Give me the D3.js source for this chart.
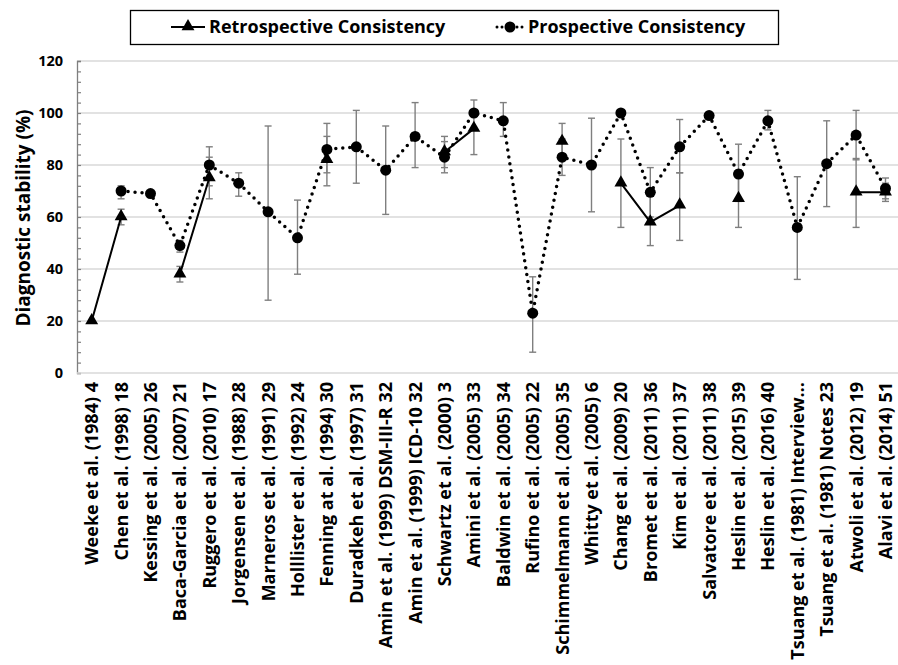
<!DOCTYPE html>
<html>
<head>
<meta charset="utf-8">
<script src="https://cdn.jsdelivr.net/npm/d3@7"></script>
<style>
  body { margin: 0; background: #fff; }
  text { font-family: "Open Sans", sans-serif; font-weight: 700; fill: #000; }
</style>
</head>
<body>
<div id="chart"></div>
<script>
var width = 898, height = 665;
var margin = {top: 61, left: 77, bottom: 292};

var studies = ["Weeke et al. (1984) 4", "Chen et al. (1998) 18", "Kessing et al. (2005) 26",
  "Baca-Garcia et al. (2007) 21", "Ruggero et al. (2010) 17", "Jorgensen et al. (1988) 28",
  "Marneros et al. (1991) 29", "Holllister et al. (1992) 24", "Fenning at al. (1994) 30",
  "Duradkeh et al. (1997) 31", "Amin et al. (1999) DSM-III-R 32", "Amin et al. (1999) ICD-10 32",
  "Schwartz et al. (2000) 3", "Amini et al. (2005) 33", "Baldwin et al. (2005) 34",
  "Rufino et al. (2005) 22", "Schimmelmann et al. (2005) 35", "Whitty et al. (2005) 6",
  "Chang et al. (2009) 20", "Bromet et al. (2011) 36", "Kim et al. (2011) 37",
  "Salvatore et al. (2011) 38", "Heslin et al. (2015) 39", "Heslin et al. (2016) 40",
  "Tsuang et al. (1981) Interview…", "Tsuang et al. (1981) Notes 23", "Atwoli et al. (2012) 19",
  "Alavi et al. (2014) 51"];

// retrospective consistency (%), null = not reported
var retro = [20, 60, null, 38, 75, null, null, null, 82, null, null, null, 85, 94, null, null, 89, null,
  73, 58, 64.5, null, 67, null, null, null, 69.5, 69.5];
var retroLow = [null, 57, null, 35, 67, null, null, null, 72, null, null, null, 77, 84, null, null, 83, null,
  56, 49, 51, null, 56, null, null, null, 56, 66];
var retroHigh = [null, 63, null, 41, 83, null, null, null, 91, null, null, null, 91, 105, null, null, 96, null,
  90, 68, 77, null, 78, null, null, null, 82.5, 73];

// prospective consistency (%)
var pro = [null, 70, 69, 49, 80, 73, 62, 52, 86, 87, 78, 91, 83, 100, 97, 23, 83, 80,
  100, 69.5, 87, 99, 76.5, 97, 56, 80.5, 91.5, 71];
var proLow = [null, 67, 67.5, 46.5, 72, 68, 28, 38, 77, 73, 61, 79, 79, null, 91, 8, 76, 62,
  null, 60, 77, null, 66, 93.5, 36, 64, 82, 67];
var proHigh = [null, 72, 70, 51, 87, 77, 95, 66.5, 96, 101, 95, 104, 89, null, 104, 37, 90, 98,
  null, 79, 97.5, null, 88, 101, 75.5, 97, 101, 75];

var yTicks = [0, 20, 40, 60, 80, 100, 120];

var rows = studies.map(function(s, i) {
  return {name: s, r: retro[i], rl: retroLow[i], rh: retroHigh[i],
          p: pro[i], pl: proLow[i], ph: proHigh[i]};
});

var svg = d3.select("#chart").append("svg")
  .attr("width", width)
  .attr("height", height);

var bottomY = height - margin.bottom;
var x = d3.scaleBand().domain(studies).range([margin.left, margin.left + 28 * 29.4]).padding(0);
var y = d3.scaleLinear().domain([0, 120]).range([bottomY, margin.top]);
function cx(d) { return x(d.name) + x.bandwidth() / 2; }

// gridlines
svg.append("g")
  .selectAll("line")
  .data(yTicks.filter(function(t) { return t > 0; }))
  .join("line")
    .attr("x1", margin.left).attr("x2", width)
    .attr("y1", function(d) { return y(d); }).attr("y2", function(d) { return y(d); })
    .attr("stroke", "#d9d9d9").attr("stroke-width", 1.5);

// y axis: ticks inside every 4 units
var yAxis = svg.append("g")
  .attr("transform", "translate(" + margin.left + ",0)")
  .call(d3.axisRight(y).tickValues(d3.range(0, 121, 4)).tickSize(4).tickFormat(""));
yAxis.select(".domain").attr("stroke", "#7f7f7f").attr("stroke-width", 1.3);
yAxis.selectAll(".tick line").attr("stroke", "#7f7f7f").attr("stroke-width", 1.2);

svg.append("g")
  .selectAll("text")
  .data(yTicks)
  .join("text")
    .attr("x", 63)
    .attr("y", function(d) { return y(d); })
    .attr("dy", "0.36em")
    .attr("text-anchor", "end")
    .attr("font-size", "14.5px")
    .text(function(d) { return d; });

// x axis line
svg.append("line")
  .attr("x1", margin.left).attr("x2", width)
  .attr("y1", bottomY).attr("y2", bottomY)
  .attr("stroke", "#d9d9d9").attr("stroke-width", 1.5);

// x labels
svg.append("g")
  .selectAll("text")
  .data(studies)
  .join("text")
    .attr("transform", function(d) {
      return "translate(" + (x(d) + x.bandwidth() / 2) + "," + (bottomY + 9) + ") rotate(-90)";
    })
    .attr("dy", "0.36em")
    .attr("text-anchor", "end")
    .attr("font-size", "18px")
    .text(function(d) { return d; });

// y title
svg.append("text")
  .attr("transform", "translate(23," + 218 + ") rotate(-90)")
  .attr("dy", "0.36em")
  .attr("text-anchor", "middle")
  .attr("font-size", "19px")
  .text("Diagnostic stability (%)");

// error bars
function errorBars(lo, hi) {
  var data = rows.filter(function(d) { return d[lo] != null; });
  var g = svg.append("g").attr("stroke", "#7f7f7f").attr("stroke-width", 1.4);
  g.selectAll("line.v").data(data).join("line").attr("class", "v")
    .attr("x1", cx).attr("x2", cx)
    .attr("y1", function(d) { return y(d[lo]); }).attr("y2", function(d) { return y(d[hi]); });
  [lo, hi].forEach(function(k) {
    g.selectAll("line.c" + k).data(data).join("line").attr("class", "c" + k)
      .attr("x1", function(d) { return cx(d) - 3.5; }).attr("x2", function(d) { return cx(d) + 3.5; })
      .attr("y1", function(d) { return y(d[k]); }).attr("y2", function(d) { return y(d[k]); });
  });
}
errorBars("rl", "rh");
errorBars("pl", "ph");

// lines
var retroLine = d3.line().defined(function(d) { return d.r != null; })
  .x(cx).y(function(d) { return y(d.r); });
var proLine = d3.line().defined(function(d) { return d.p != null; })
  .x(cx).y(function(d) { return y(d.p); });

svg.append("path").datum(rows).attr("d", retroLine)
  .attr("fill", "none").attr("stroke", "#000").attr("stroke-width", 2);
svg.append("path").datum(rows.filter(function(d) { return d.p != null; })).attr("d", proLine)
  .attr("fill", "none").attr("stroke", "#000").attr("stroke-width", 3.5)
  .attr("stroke-linecap", "round").attr("stroke-dasharray", "0,7");

// markers
var tri = d3.symbol().type(d3.symbolTriangle).size(72);
svg.append("g").selectAll("path")
  .data(rows.filter(function(d) { return d.r != null; }))
  .join("path")
    .attr("d", tri)
    .attr("transform", function(d) { return "translate(" + cx(d) + "," + (y(d.r) - 0.5) + ")"; })
    .attr("fill", "#000");
svg.append("g").selectAll("circle")
  .data(rows.filter(function(d) { return d.p != null; }))
  .join("circle")
    .attr("cx", cx).attr("cy", function(d) { return y(d.p); })
    .attr("r", 5.5).attr("fill", "#000");

// legend
var legend = svg.append("g");
legend.append("rect")
  .attr("x", 130.5).attr("y", 10.5).attr("width", 648).attr("height", 34)
  .attr("fill", "#fff").attr("stroke", "#000").attr("stroke-width", 1.3);
legend.append("line").attr("x1", 171).attr("x2", 205).attr("y1", 27).attr("y2", 27)
  .attr("stroke", "#000").attr("stroke-width", 2);
legend.append("path").attr("d", tri).attr("transform", "translate(188,26.5)");
legend.append("text").attr("x", 209).attr("y", 27).attr("dy", "0.36em")
  .attr("font-size", "18px").text("Retrospective Consistency");
legend.append("line").attr("x1", 497).attr("x2", 523).attr("y1", 27).attr("y2", 27)
  .attr("stroke", "#000").attr("stroke-width", 3).attr("stroke-linecap", "round")
  .attr("stroke-dasharray", "0,5");
legend.append("circle").attr("cx", 510).attr("cy", 27).attr("r", 5.5);
legend.append("text").attr("x", 528).attr("y", 27).attr("dy", "0.36em")
  .attr("font-size", "18px").text("Prospective Consistency");
</script>
</body>
</html>
